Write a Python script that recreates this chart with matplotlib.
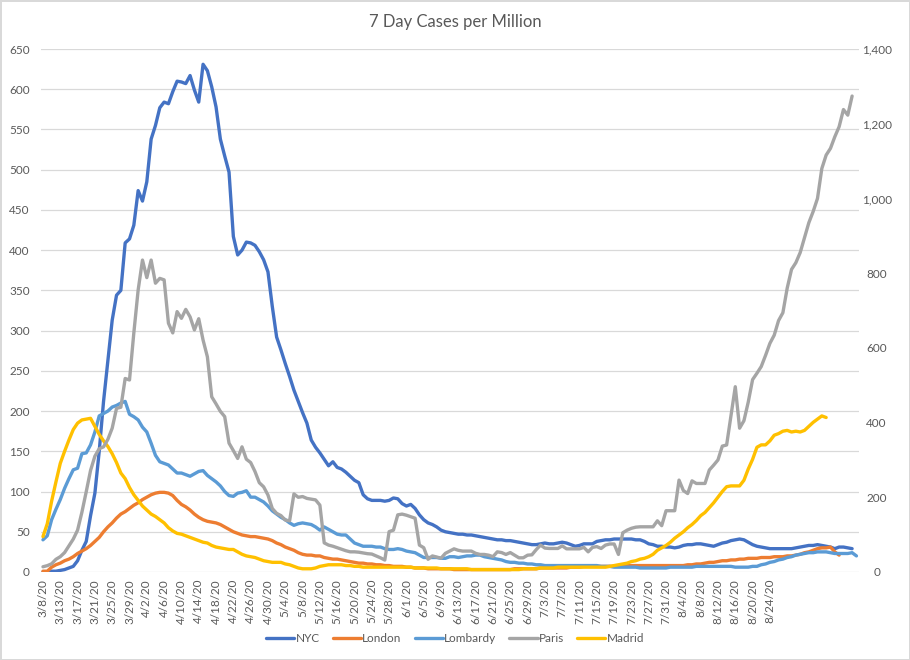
import matplotlib
matplotlib.use('Agg')
from matplotlib import pyplot as plt
from matplotlib.ticker import FuncFormatter, MultipleLocator

# category labels, one every 4th category (3/8/20 ... 8/24/20)
tick_labels = ['3/8/20', '3/13/20', '3/17/20', '3/21/20', '3/25/20', '3/29/20',
               '4/2/20', '4/6/20', '4/10/20', '4/14/20', '4/18/20', '4/22/20',
               '4/26/20', '4/30/20', '5/4/20', '5/8/20', '5/12/20', '5/16/20',
               '5/20/20', '5/24/20', '5/28/20', '6/1/20', '6/5/20', '6/9/20',
               '6/13/20', '6/17/20', '6/21/20', '6/25/20', '6/29/20', '7/3/20',
               '7/7/20', '7/11/20', '7/15/20', '7/19/20', '7/23/20', '7/27/20',
               '7/31/20', '8/4/20', '8/8/20', '8/12/20', '8/16/20', '8/20/20',
               '8/24/20']
n_categories = 189

# 7 day cases per million (primary axis)
nyc = [0, 0, 1, 1, 2, 3, 5, 7, 14, 27,
       38, 70, 98, 150, 212, 262, 313, 344, 350, 409,
       414, 431, 474, 461, 485, 538, 555, 577, 584, 582,
       597, 610, 609, 607, 617, 599, 584, 631, 623, 603,
       578, 538, 517, 497, 417, 394, 400, 410, 409, 406,
       398, 388, 373, 330, 292, 276, 259, 243, 226, 212,
       198, 185, 164, 155, 148, 140, 132, 137, 130, 128,
       124, 119, 114, 111, 96, 91, 89, 89, 89, 88,
       89, 92, 91, 85, 82, 84, 79, 71, 65, 61,
       59, 56, 52, 50, 49, 48, 47, 47, 46, 46,
       45, 44, 43, 42, 41, 40, 40, 39, 39, 38,
       37, 36, 35, 34, 34, 35, 36, 35, 35, 36,
       37, 36, 34, 32, 33, 35, 35, 35, 38, 39,
       40, 40, 41, 41, 41, 41, 41, 40, 40, 38,
       35, 34, 32, 32, 31, 31, 30, 31, 33, 34,
       34, 35, 35, 34, 33, 32, 34, 36, 37, 39,
       40, 41, 40, 37, 34, 32, 31, 30, 29, 29,
       29, 29, 29, 29, 30, 31, 32, 33, 33, 34,
       33, 32, 31, 29, 31, 31, 30, 29]

london = [1, 1, 6, 9, 11, 14, 16, 19, 23, 26,
          29, 33, 38, 43, 50, 56, 61, 67, 72, 75,
          79, 83, 86, 90, 93, 96, 98, 99, 99, 98,
          95, 89, 84, 81, 77, 72, 68, 65, 63, 62,
          61, 59, 56, 53, 50, 48, 46, 45, 44, 44,
          43, 42, 41, 39, 36, 34, 31, 29, 27, 24,
          22, 21, 21, 20, 20, 18, 17, 16, 16, 15,
          14, 13, 12, 11, 11, 10, 10, 9, 9, 8,
          8, 7, 7, 7, 6, 6, 5, 5, 5, 4,
          4, 4, 4, 4, 4, 3, 3, 3, 3, 3,
          3, 3, 3, 3, 3, 3, 3, 3, 3, 4,
          4, 4, 4, 4, 4, 5, 5, 5, 5, 5,
          5, 5, 6, 6, 6, 7, 7, 7, 7, 7,
          7, 7, 7, 7, 7, 8, 8, 8, 8, 8,
          8, 8, 8, 8, 8, 8, 8, 8, 8, 9,
          9, 10, 10, 11, 12, 12, 13, 14, 14, 15,
          15, 16, 16, 17, 17, 17, 18, 18, 18, 19,
          19, 19, 20, 20, 21, 22, 24, 25, 27, 29,
          30, 30, 31, 25, 21]

lombardy = [40, 45, 65, 78, 90, 104, 116, 127, 129, 147,
            148, 158, 174, 194, 197, 200, 205, 207, 210, 212,
            196, 193, 189, 180, 174, 160, 145, 137, 135, 133,
            128, 123, 123, 121, 119, 122, 125, 126, 120, 116,
            112, 107, 100, 95, 94, 98, 99, 101, 93, 93,
            90, 87, 82, 76, 72, 68, 65, 61, 58, 60,
            61, 60, 59, 56, 52, 56, 53, 50, 47, 46,
            46, 41, 36, 34, 32, 32, 32, 31, 31, 29,
            28, 28, 29, 28, 26, 25, 24, 21, 18, 18,
            18, 18, 17, 17, 19, 19, 18, 19, 20, 20,
            21, 21, 19, 18, 17, 16, 15, 13, 12, 12,
            11, 11, 10, 10, 9, 9, 8, 8, 8, 8,
            8, 8, 8, 8, 8, 8, 8, 8, 8, 7,
            7, 7, 6, 6, 6, 6, 6, 6, 5, 5,
            5, 5, 5, 5, 5, 6, 6, 6, 6, 6,
            6, 7, 7, 7, 7, 7, 7, 7, 7, 7,
            6, 6, 6, 6, 7, 7, 9, 10, 12, 13,
            15, 16, 18, 19, 21, 22, 23, 24, 24, 25,
            25, 25, 24, 23, 23, 23, 23, 24, 20]

madrid = [44, 60, 88, 112, 135, 150, 164, 177, 185, 189,
          190, 191, 181, 171, 163, 156, 147, 136, 123, 116,
          105, 96, 89, 82, 77, 72, 69, 65, 61, 55,
          51, 48, 47, 45, 43, 41, 39, 37, 36, 33,
          31, 30, 29, 28, 28, 25, 22, 20, 19, 18,
          16, 14, 13, 12, 12, 12, 10, 9, 7, 5,
          4, 4, 4, 5, 7, 8, 9, 9, 9, 9,
          8, 8, 7, 7, 6, 6, 6, 6, 6, 6,
          6, 6, 6, 6, 6, 6, 5, 5, 5, 5,
          5, 5, 4, 4, 4, 4, 4, 4, 4, 3,
          3, 3, 3, 3, 3, 3, 3, 3, 3, 3,
          3, 4, 4, 4, 4, 5, 5, 5, 5, 6,
          6, 6, 6, 6, 6, 6, 6, 6, 6, 6,
          6, 7, 8, 9, 10, 11, 13, 14, 16, 17,
          19, 22, 27, 30, 33, 37, 42, 46, 50, 55,
          59, 64, 70, 74, 80, 86, 93, 100, 106, 107,
          107, 107, 114, 128, 140, 155, 158, 158, 163, 170,
          172, 175, 176, 174, 175, 174, 176, 181, 186, 190,
          194, 192]

# Paris is plotted on the secondary axis
paris = [14, 17, 22, 34, 41, 52, 70, 88, 112, 160,
         215, 272, 310, 330, 335, 355, 385, 438, 441, 518,
         514, 640, 755, 835, 788, 835, 773, 786, 782, 666,
         640, 697, 679, 703, 683, 648, 678, 621, 576, 469,
         450, 430, 416, 345, 325, 304, 335, 302, 293, 269,
         239, 228, 206, 170, 157, 151, 139, 137, 209, 200,
         202, 197, 195, 193, 179, 78, 72, 69, 65, 61,
         57, 54, 54, 53, 51, 49, 48, 43, 38, 32,
         108, 112, 153, 155, 152, 148, 144, 72, 65, 34,
         43, 40, 37, 50, 56, 62, 58, 56, 56, 56,
         50, 47, 47, 45, 41, 54, 52, 47, 52, 45,
         38, 38, 45, 46, 60, 72, 64, 63, 63, 63,
         70, 62, 62, 62, 62, 66, 54, 66, 68, 63,
         72, 75, 75, 47, 105, 112, 117, 120, 121, 121,
         121, 121, 137, 124, 164, 164, 164, 246, 218, 210,
         244, 237, 237, 237, 273, 286, 300, 337, 340, 418,
         496, 385, 405, 455, 515, 532, 550, 580, 612, 634,
         673, 694, 760, 810, 828, 855, 895, 935, 965, 1000,
         1080, 1116, 1134, 1165, 1192, 1238, 1223, 1274]

TEXT = '#595959'
GRID = '#D9D9D9'
plt.rcParams['font.family'] = ['Lato', 'DejaVu Sans']

fig, ax = plt.subplots(figsize=(9.1, 6.6), dpi=100)
fig.subplots_adjust(left=40.8 / 910, right=858.6 / 910,
                    top=1 - 49 / 660, bottom=1 - 572 / 660)
ax2 = ax.twinx()

line_kw = dict(lw=2.4, solid_joinstyle='round', solid_capstyle='round')
ax.plot(range(len(nyc)), nyc, color='#4472C4', label='NYC', **line_kw)
ax.plot(range(len(london)), london, color='#ED7D31', label='London', **line_kw)
ax.plot(range(len(lombardy)), lombardy, color='#5B9BD5', label='Lombardy', **line_kw)
ax.plot(range(len(madrid)), madrid, color='#FFC000', label='Madrid', **line_kw)
ax2.plot(range(len(paris)), paris, color='#A5A5A5', label='Paris', **line_kw)

ax.set_xlim(-0.5, n_categories - 0.5)
ax.set_xticks(range(0, 4 * len(tick_labels), 4))
ax.set_xticklabels(tick_labels, rotation=90)

ax.set_ylim(0, 650)
ax.yaxis.set_major_locator(MultipleLocator(50))
ax2.set_ylim(0, 1400)
ax2.yaxis.set_major_locator(MultipleLocator(200))
ax2.yaxis.set_major_formatter(FuncFormatter(lambda v, p: f'{v:,.0f}'))

ax.grid(axis='y', color=GRID, lw=0.9)
ax.set_axisbelow(True)
for a in (ax, ax2):
    for spine in a.spines.values():
        spine.set_visible(False)
ax.tick_params(axis='x', length=0, pad=5, labelsize=8.5, labelcolor=TEXT)
ax.tick_params(axis='y', length=0, pad=8, labelsize=8.5, labelcolor=TEXT)
ax2.tick_params(axis='y', length=0, pad=13, labelsize=8.5, labelcolor=TEXT)
for lbl in ax2.get_yticklabels():
    lbl.set_horizontalalignment('center')

fig.text(0.5, 1 - 22 / 660, '7 Day Cases per Million', ha='center', va='center',
         fontsize=12, color=TEXT)

handles = {}
for a in (ax, ax2):
    for h in a.get_lines():
        handles[h.get_label()] = h
order = ['NYC', 'London', 'Lombardy', 'Paris', 'Madrid']
fig.legend([handles[k] for k in order], order, loc='center',
           bbox_to_anchor=(0.5, 1 - 639 / 660), ncol=5, frameon=False,
           handlelength=2.4, handletextpad=0.1, columnspacing=1.1,
           fontsize=8.5, labelcolor=TEXT)

fig.patch.set_edgecolor(GRID)
fig.patch.set_linewidth(2)
plt.savefig('out.png', dpi=100, edgecolor=fig.get_edgecolor())
